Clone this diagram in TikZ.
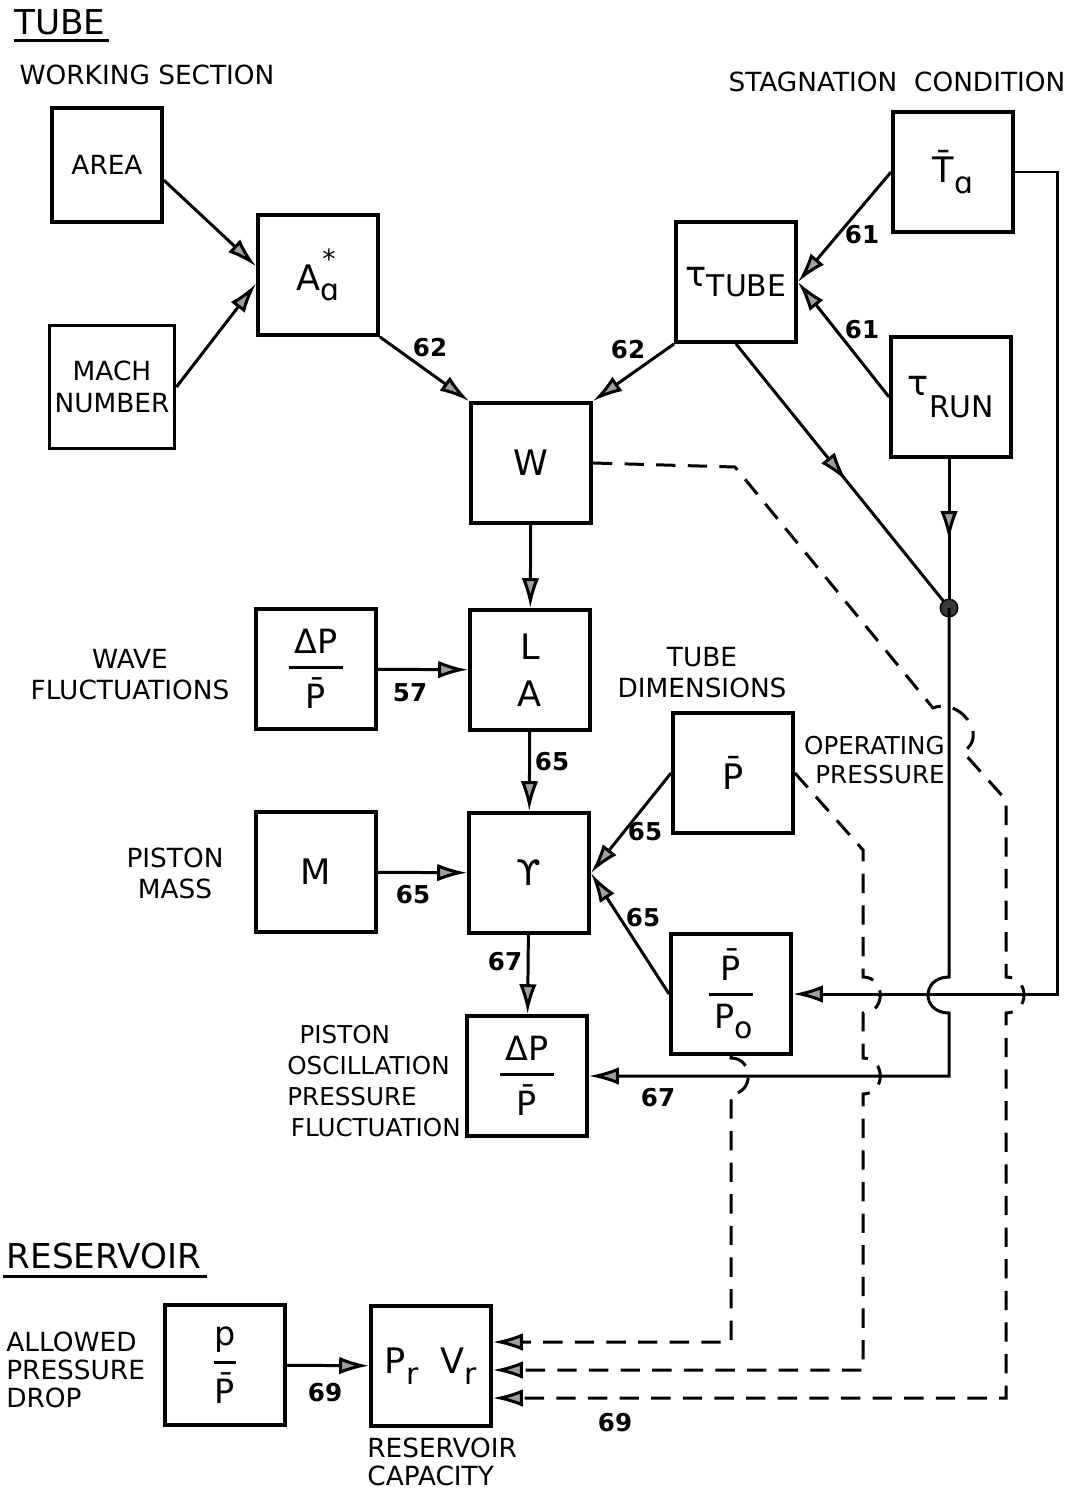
\documentclass[tikz,border=0pt]{standalone}
\usepackage{fix-cm}
\usepackage{amsmath}
\usepackage{fontspec}
\setmainfont{DejaVu Sans}
\usetikzlibrary{arrows.meta,decorations.markings}
\newcommand{\lo}[1]{\raisebox{-0.55ex}{\fontsize{17}{19}\selectfont #1}}
\newcommand{\hi}[1]{\raisebox{1.15ex}{\fontsize{15}{17}\selectfont #1}}
\newcommand{\blkfrac}[2]{$\genfrac{}{}{1.6pt}{0}{\text{#1}}{\text{#2}}$}

\begin{document}
\begin{tikzpicture}[x=0.02cm,y=-0.02cm,
  blk/.style={draw,line width=2.2pt,minimum width=2.4cm,minimum height=2.4cm,inner sep=0pt,
    font=\fontsize{20}{23}\selectfont},
  frc/.style={blk,font=\fontsize{19}{22}\selectfont},
  lbl/.style={font=\fontsize{15}{17.6}\selectfont,align=center,inner sep=0pt},
  num/.style={font=\bfseries\fontsize{14}{17}\selectfont,inner sep=0pt},
  ttl/.style={font=\fontsize{19.5}{22}\selectfont,inner sep=0pt},
  tip/.style={-{Latex[length=17pt,width=10pt,fill=gray!75]}},
  con/.style={line width=1.7pt,tip},
  dsh/.style={con,dash pattern=on 11pt off 7pt},
  midarr/.style={line width=1.7pt,postaction={decorate},
    decoration={markings,mark=at position #1 with {\arrow{Latex[length=17pt,width=10pt,fill=gray!75]}}}}]
 \useasboundingbox (0,0) rectangle (1086,1493);
 % Headings
 \node[ttl] (ttltube) at (60,22) {TUBE};
 \draw[line width=1.4pt] ([yshift=-3pt]ttltube.south west) -- ([yshift=-3pt,xshift=2pt]ttltube.south east);
 \node[lbl] (working) at (147,75) {WORKING SECTION};
 \node[lbl] (stagn) at (897,82) {STAGNATION\ \ CONDITION};
 % Working section and stagnation blocks
 \node[blk,font=\fontsize{15}{18}\selectfont,minimum width=2.2cm,minimum height=2.28cm] (area) at (107,165) {AREA};
 \node[blk,font=\fontsize{15}{18}\selectfont,align=center,minimum width=2.5cm,minimum height=2.46cm] (mach) at (112,387) {MACH\\NUMBER};
 \node[blk] (astar) at (318,275) {A\rlap{\kern1pt\hi{*}}\lo{ɑ}};
 \node[blk] (ttube) at (736,282) {τ\lo{TUBE}};
 \node[blk] (tbar) at (953,172) {\={T}\lo{ɑ}};
 \node[blk] (trun) at (951,397) {\raisebox{0.6ex}{τ}\lo{RUN}};
 \node[blk] (w) at (531,463) {W};
 % Tube blocks
 \node[frc] (wave) at (316,669) {\blkfrac{\,ΔP\,}{\={P}}};
 \node[blk,align=center] (la) at (530,670) {L\\[4pt]A};
 \node[blk] (pbar) at (733,773) {\={P}};
 \node[blk] (mass) at (316,872) {M};
 \node[blk] (period) at (529,873) {ϒ};
 \node[frc] (ppo) at (731,994) {\blkfrac{\={P}}{\,P\lo{o}}};
 \node[frc] (dpp) at (527,1076) {\blkfrac{\,ΔP\,}{\={P}}};
 \node[lbl] (wavelbl) at (130,675) {WAVE\\FLUCTUATIONS};
 \node[lbl] (tubedim) at (702,673) {TUBE\\DIMENSIONS};
 \node[lbl,font=\fontsize{14}{17}\selectfont,align=right,anchor=east] (oper) at (945,760) {OPERATING\\PRESSURE};
 \node[lbl] (pmass) at (175,873) {PISTON\\MASS};
 \node[lbl,font=\fontsize{14}{17.8}\selectfont,align=left,anchor=west] (posc) at (287,1081)
   {\hspace{7pt}PISTON\\OSCILLATION\\PRESSURE\\\hspace{2pt}FLUCTUATION};
 % Reservoir
 \node[ttl] (reslbl) at (104,1256) {RESERVOIR};
 \draw[line width=1.4pt] ([yshift=-4pt,xshift=-2pt]reslbl.south west) -- ([yshift=-4pt,xshift=3pt]reslbl.south east);
 \node[frc] (drop) at (225,1365) {\blkfrac{p}{\={P}}};
 \node[blk] (pv) at (431,1366) {P\lo{r}\ \ V\lo{r}};
 \node[lbl,align=left,anchor=west,font=\fontsize{15}{16}\selectfont] (allowed) at (6,1370) {ALLOWED\\PRESSURE\\DROP};
 \node[lbl,align=left,anchor=west,font=\fontsize{15}{16.3}\selectfont] (rescap) at (367,1462) {RESERVOIR\\CAPACITY};
 % Solid connectors
 \draw[con] (area.-15) -- (astar.172);
 \draw[con] (mach.east) -- (astar.188);
 \draw[con] (astar.south east) -- (w.north west);
 \draw[con] (ttube.south west) -- (w.north east);
 \draw[con] (tbar.west) -- (ttube.east);
 \draw[con] (trun.west) -- (ttube.east);
 \draw[con] (w) -- (la);
 \draw[con] (wave) -- (la);
 \draw[con] (la) -- (period);
 \draw[con] (mass) -- (period);
 \draw[con] (pbar.west) -- (period.east);
 \draw[con] (ppo.west) -- (period.east);
 \draw[con] (period) -- (dpp);
 \draw[con] (drop) -- (pv);
 % Junction of run and tube times
 \coordinate (jn) at (949,608);
 \draw[midarr=0.55] (trun.south -| jn) -- (jn);
 \draw[midarr=0.52] (ttube.south) -- (jn);
 \filldraw[fill=gray!45!black,line width=0.8pt] (jn) circle[radius=5pt];
 \draw[con] (jn) -- (949,977) .. controls (921,977) and (921,1013) .. (949,1013) -- (949,1076) -- (dpp.east);
 \draw[con] (tbar.east) -- (1057,172) -- (1057,994) -- (ppo.east);
 % Dashed connectors to the reservoir
 \draw[dsh] (w.east) -- (735,467) -- (933,708) .. controls (958,697) and (990,735) .. (963,752)
   -- (1006,800) -- (1006,977) .. controls (1030,977) and (1030,1013) .. (1006,1013)
   -- (1006,1398) -- (pv.east |- 1006,1398);
 \draw[dsh] (pbar.east) -- (863,850) -- (863,977) .. controls (886,977) and (886,1013) .. (863,1013)
   -- (863,1058) .. controls (886,1058) and (886,1094) .. (863,1094)
   -- (863,1370) -- (pv.east |- 863,1370);
 \draw[dsh] (ppo.south) -- (731,1058) .. controls (754,1058) and (754,1094) .. (731,1094)
   -- (731,1342) -- (pv.east |- 731,1342);
 % Equation numbers
 \node[num] (n62a) at (430,348) {62};
 \node[num] (n62b) at (628,350) {62};
 \node[num] (n61a) at (862,235) {61};
 \node[num] (n61b) at (862,330) {61};
 \node[num] (n57) at (410,693) {57};
 \node[num] (n65a) at (552,762) {65};
 \node[num] (n65b) at (413,895) {65};
 \node[num] (n65c) at (645,832) {65};
 \node[num] (n65d) at (643,918) {65};
 \node[num] (n67a) at (505,962) {67};
 \node[num] (n67b) at (658,1098) {67};
 \node[num] (n69a) at (325,1393) {69};
 \node[num] (n69b) at (615,1423) {69};
\end{tikzpicture}
\end{document}
